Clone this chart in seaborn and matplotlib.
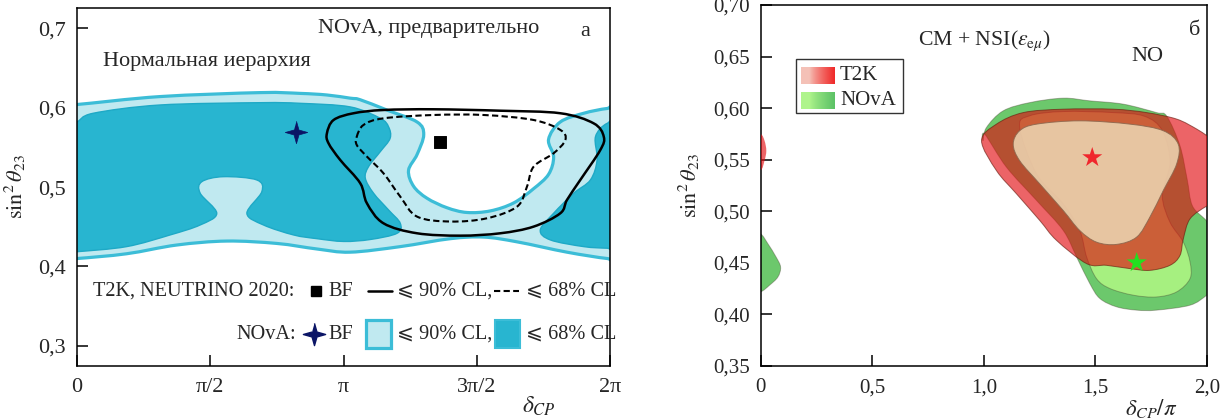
import numpy as np
import pandas as pd
import matplotlib
matplotlib.use("Agg")
import matplotlib.pyplot as plt
from matplotlib.path import Path
from matplotlib.patches import PathPatch, Rectangle
import seaborn as sns

# ---------------- panel (a): NOvA vs T2K, delta_CP in units of pi ----------------
nova90_dcp = [-0.05, 0.0, 0.311, 0.687, 0.837, 0.937, 1.024, 1.062, 1.162, 1.275, 1.30, 1.275,
              1.243, 1.262, 1.312, 1.387, 1.462, 1.55, 1.637, 1.712, 1.768, 1.787, 1.768, 1.812,
              1.9, 1.988, 2.05,
              2.05, 1.988, 1.837, 1.65, 1.525, 1.40, 1.212, 1.024, 0.9, 0.749, 0.5615, 0.374,
              0.186, 0.0, -0.05]
nova90_s23 = [0.604, 0.604, 0.614, 0.619, 0.618, 0.616, 0.612, 0.610, 0.597, 0.582, 0.566, 0.541,
              0.521, 0.501, 0.486, 0.474, 0.468, 0.470, 0.480, 0.498, 0.516, 0.538, 0.560, 0.582,
              0.593, 0.599, 0.599,
              0.410, 0.410, 0.418, 0.431, 0.437, 0.435, 0.425, 0.418, 0.422, 0.429, 0.432, 0.427,
              0.416, 0.410, 0.410]

nova68a_dcp = [-0.05, 0.0, 0.061, 0.311, 0.687, 0.837, 1.024, 1.137, 1.168, 1.174, 1.137, 1.093,
               1.081, 1.112, 1.168, 1.212, 1.2, 1.1, 1.0, 0.9, 0.812, 0.699, 0.637, 0.693, 0.674,
               0.549, 0.468, 0.462, 0.524, 0.462, 0.349, 0.186, 0.0, -0.05]
nova68a_s23 = [0.582, 0.5824, 0.593, 0.6034, 0.6063, 0.6055, 0.601, 0.5866, 0.576, 0.5615, 0.5446,
               0.5257, 0.5111, 0.4922, 0.4712, 0.4544, 0.4418, 0.434, 0.4315, 0.435, 0.4397, 0.4523,
               0.467, 0.4942, 0.509, 0.5131, 0.5068, 0.4922, 0.467, 0.4523, 0.4397, 0.425, 0.4186,
               0.418]

nova68b_dcp = [2.05, 1.988, 1.944, 1.95, 1.925, 1.862, 1.787, 1.737, 1.775, 1.90, 1.988, 2.05]
nova68b_s23 = [0.5803, 0.5803, 0.5635, 0.5341, 0.509, 0.4922, 0.467, 0.446, 0.4334, 0.425, 0.423,
               0.423]

t2k90_dcp = [0.937, 0.962, 1.037, 1.149, 1.337, 1.587, 1.812, 1.937, 1.975, 1.962, 1.887, 1.837,
             1.812, 1.712, 1.587, 1.437, 1.275, 1.149, 1.087, 1.062, 0.987, 0.943]
t2k90_s23 = [0.5677, 0.5845, 0.593, 0.5971, 0.598, 0.5962, 0.593, 0.5803, 0.5635, 0.5467, 0.509,
             0.4838, 0.467, 0.4502, 0.4418, 0.4388, 0.4418, 0.4544, 0.4796, 0.5048, 0.5341, 0.5552]

t2k68_dcp = [1.049, 1.074, 1.149, 1.337, 1.525, 1.712, 1.812, 1.831, 1.787, 1.712, 1.687, 1.65,
             1.537, 1.40, 1.275, 1.212, 1.149, 1.087, 1.049]
t2k68_s23 = [0.5635, 0.5782, 0.5866, 0.5908, 0.5908, 0.5845, 0.572, 0.5594, 0.5426, 0.5257, 0.5005,
             0.4754, 0.4607, 0.4566, 0.4628, 0.488, 0.5174, 0.5384, 0.553]

bf_nova_a = (0.822, 0.569)
bf_t2k_a = (1.362, 0.5564)

# ---------------- panel (b): SM + NSI(eps_emu), delta_CP / pi ----------------
nsi_nova90_dcp = [0.997, 1.012, 1.087, 1.206, 1.356, 1.475, 1.625, 1.774, 1.82, 1.879, 1.911,
                  1.935, 2.0, 2.06, 2.06, 1.999, 1.924, 1.774, 1.685, 1.595, 1.52, 1.475, 1.416,
                  1.356, 1.237, 1.102, 1.004]
nsi_nova90_s23 = [0.5683, 0.5811, 0.5973, 0.6053, 0.6096, 0.607, 0.6038, 0.5956, 0.592, 0.5634,
                  0.5312, 0.505, 0.49, 0.47, 0.43, 0.4184, 0.4087, 0.4039, 0.4039, 0.4071, 0.4152,
                  0.4297, 0.4554, 0.4812, 0.5102, 0.5425, 0.5748]

nsi_nova68_dcp = [1.161, 1.206, 1.356, 1.58, 1.72, 1.80, 1.834, 1.80, 1.834, 1.894, 1.924, 1.924,
                  1.864, 1.774, 1.67, 1.565, 1.505, 1.461, 1.43, 1.356, 1.237]
nsi_nova68_s23 = [0.5811, 0.5925, 0.5966, 0.5956, 0.592, 0.578, 0.5473, 0.5151, 0.4893, 0.4699,
                  0.4506, 0.4345, 0.4216, 0.4167, 0.4184, 0.4249, 0.4345, 0.4554, 0.4812, 0.5071,
                  0.5361]

nsi_t2k90_dcp = [0.99, 1.057, 1.177, 1.356, 1.58, 1.729, 1.864, 1.954, 2.0, 2.06, 2.06, 2.0, 1.924,
                 1.894, 1.879, 1.834, 1.744, 1.655, 1.55, 1.461, 1.326, 1.251, 1.147, 1.057]
nsi_t2k90_s23 = [0.5683, 0.5844, 0.5956, 0.5989, 0.5989, 0.5956, 0.5893, 0.5796, 0.5731, 0.565,
                 0.51, 0.505, 0.4925, 0.4732, 0.457, 0.4474, 0.4425, 0.4442, 0.4474, 0.449, 0.4716,
                 0.4909, 0.5167, 0.5393]

nsi_t2k68_dcp = [1.132, 1.161, 1.237, 1.43, 1.655, 1.804, 1.871, 1.864, 1.804, 1.744, 1.685, 1.595,
                 1.505, 1.43, 1.356, 1.251, 1.161]
nsi_t2k68_s23 = [0.565, 0.578, 0.5844, 0.5876, 0.5844, 0.578, 0.565, 0.5457, 0.5199, 0.4941,
                 0.4748, 0.4677, 0.4699, 0.4812, 0.5006, 0.5264, 0.5489]

nsi_t2k_wrap_dcp = [-0.05, 0.0, 0.018, 0.026, 0.018, 0.0, -0.05]
nsi_t2k_wrap_s23 = [0.5748, 0.5748, 0.5683, 0.5586, 0.549, 0.5393, 0.5393]
nsi_nova_wrap_dcp = [-0.05, 0.0, 0.033, 0.070, 0.09, 0.078, 0.04, 0.0, -0.05]
nsi_nova_wrap_s23 = [0.48, 0.478, 0.4684, 0.4554, 0.4457, 0.4361, 0.428, 0.4216, 0.421]

bf_t2k_b = (1.486, 0.552)
bf_nova_b = (1.685, 0.450)

# ---------------- styling ----------------
sns.set_theme(style="ticks")
plt.rcParams["font.family"] = ["Liberation Serif", "DejaVu Serif", "DejaVu Sans"]
plt.rcParams["mathtext.fontset"] = "stix"
FS_A = 16.0      # panel (a) captions and tick labels
FS_KEY = 14.6    # panel (a) key rows
FS_B = 15.0      # panel (b) tick labels
SERIF = ["Liberation Serif", "DejaVu Sans"]

C_LIGHT = "#c0e9f0"
C_BORDER = "#3cbdd7"
C_DARK = "#28b5d0"
C_NAVY = "#0b1566"


def smooth_closed(xs, ys):
    """Closed Catmull-Rom curve through the given boundary points as a Bezier path."""
    p = np.column_stack([xs, ys]).astype(float)
    n = len(p)
    verts = [p[0]]
    codes = [Path.MOVETO]
    for i in range(n):
        p0, p1, p2, p3 = p[i - 1], p[i], p[(i + 1) % n], p[(i + 2) % n]
        c1 = p1 + (p2 - p0) / 6.0
        c2 = p2 - (p3 - p1) / 6.0
        verts += [c1, c2, p2]
        codes += [Path.CURVE4] * 3
    verts.append(p[0])
    codes.append(Path.CLOSEPOLY)
    return Path(np.array(verts), codes)


def region(ax, xs, ys, **kw):
    patch = PathPatch(smooth_closed(xs, ys), **kw)
    ax.add_patch(patch)
    return patch


fig = plt.figure(figsize=(12.28, 4.2), dpi=100)
axL = fig.add_axes([0.0627, 0.1293, 0.4344, 0.8517])
axR = fig.add_axes([0.6193, 0.1293, 0.3636, 0.8588])

for ax in (axL, axR):
    for sp in ax.spines.values():
        sp.set_visible(True)
        sp.set_linewidth(1.1)
        sp.set_color("black")
    ax.set_facecolor("white")

# ---------------- panel (a) ----------------
region(axL, nova90_dcp, nova90_s23, facecolor=C_LIGHT, edgecolor=C_BORDER, lw=2.3, zorder=1)
region(axL, nova68a_dcp, nova68a_s23, facecolor=C_DARK, edgecolor="#1ea9c6", lw=1.0, zorder=2)
region(axL, nova68b_dcp, nova68b_s23, facecolor=C_DARK, edgecolor="#1ea9c6", lw=1.0, zorder=2)
region(axL, t2k90_dcp, t2k90_s23, fill=False, edgecolor="black", lw=1.8, zorder=4)
region(axL, t2k68_dcp, t2k68_s23, fill=False, edgecolor="black", lw=1.5,
       linestyle=(0, (3.0, 1.6)), zorder=4)

star4 = [(0, 1), (0.22, 0.22), (1, 0), (0.22, -0.22), (0, -1), (-0.22, -0.22), (-1, 0), (-0.22, 0.22)]
bfa = pd.DataFrame({"dcp": [bf_nova_a[0], bf_t2k_a[0]], "s23": [bf_nova_a[1], bf_t2k_a[1]],
                    "exp": ["NOvA", "T2K"]})
sns.scatterplot(data=bfa[bfa.exp == "NOvA"], x="dcp", y="s23", marker=star4, s=260,
                color=C_NAVY, edgecolor=C_NAVY, linewidth=0.5, ax=axL, zorder=6, legend=False)
sns.scatterplot(data=bfa[bfa.exp == "T2K"], x="dcp", y="s23", marker="s", s=70,
                color="black", edgecolor="black", ax=axL, zorder=6, legend=False)

axL.set_xlim(0, 2)
axL.set_ylim(0.275, 0.7256)
axL.set_xticks([0, 0.5, 1, 1.5, 2])
axL.set_xticklabels(["0", "π/2", "π", "3π/2", "2π"])
axL.set_yticks([0.3, 0.4, 0.5, 0.6, 0.7])
axL.set_yticklabels(["0,3", "0,4", "0,5", "0,6", "0,7"])
axL.tick_params(axis="both", direction="in", length=8, width=1.1, labelsize=FS_A, color="black")
axL.tick_params(axis="x", pad=9)
axL.tick_params(axis="y", pad=8)
axL.set_xlabel(r"$\delta_{CP}$", fontsize=FS_A + 1)
axL.xaxis.set_label_coords(0.866, -0.082)
axL.set_ylabel(r"$\sin^2\theta_{23}$", fontsize=FS_A)
axL.yaxis.set_label_coords(-0.092, 0.5)

tA = axL.transAxes
axL.text(0.452, 0.944, "NOvA, предварительно", transform=tA, fontsize=FS_A, va="center", ha="left")
axL.text(0.952, 0.933, "а", transform=tA, fontsize=FS_A, va="center", ha="center")
axL.text(0.0487, 0.849, "Нормальная иерархия", transform=tA, fontsize=FS_A, va="center", ha="left")

# key, first row: T2K
r1, r2 = 0.2088, 0.0886
axL.text(0.0294, r1, "T2K, NEUTRINO 2020:", transform=tA, fontsize=FS_KEY, va="center", ha="left")
axL.plot([0.448], [r1], marker="s", ms=7, color="black", transform=tA, clip_on=False)
axL.text(0.4705, r1, "BF", transform=tA, fontsize=FS_KEY, va="center", ha="left")
axL.plot([0.5454, 0.5904], [r1, r1], color="black", lw=1.8, transform=tA)
axL.text(0.5998, r1, "⩽ 90% CL,", transform=tA, fontsize=FS_KEY, va="center", ha="left", family=SERIF)
axL.plot([0.7816, 0.8285], [r1, r1], color="black", lw=1.5, ls=(0, (3.0, 1.6)), transform=tA)
axL.text(0.8416, r1, "⩽ 68% CL", transform=tA, fontsize=FS_KEY, va="center", ha="left", family=SERIF)

# key, second row: NOvA
axL.text(0.4105, r2, "NOvA:", transform=tA, fontsize=FS_KEY, va="center", ha="right")
axL.plot([0.4442], [r2], marker=star4, ms=16, color=C_NAVY, transform=tA)
axL.text(0.4705, r2, "BF", transform=tA, fontsize=FS_KEY, va="center", ha="left")
axL.add_patch(Rectangle((0.5417, 0.0495), 0.0469, 0.0783, transform=tA,
                        facecolor=C_LIGHT, edgecolor=C_BORDER, lw=2.3))
axL.text(0.5998, r2, "⩽ 90% CL,", transform=tA, fontsize=FS_KEY, va="center", ha="left", family=SERIF)
axL.add_patch(Rectangle((0.7835, 0.0495), 0.0469, 0.0783, transform=tA,
                        facecolor=C_DARK, edgecolor=C_BORDER, lw=1.5))
axL.text(0.8416, r2, "⩽ 68% CL", transform=tA, fontsize=FS_KEY, va="center", ha="left", family=SERIF)

# ---------------- panel (b) ----------------
G_OUT = "#6cc86c"
G_IN = "#a6f080"
R_OUT = "#e10a0f"
BEIGE = "#ecd4b0"
edge = dict(edgecolor=(0.25, 0.2, 0.15, 0.35), lw=0.7)

region(axR, nsi_nova90_dcp, nsi_nova90_s23, facecolor=G_OUT, zorder=1, **edge)
region(axR, nsi_nova_wrap_dcp, nsi_nova_wrap_s23, facecolor=G_OUT, zorder=1, **edge)
region(axR, nsi_nova68_dcp, nsi_nova68_s23, facecolor=G_IN, zorder=2, **edge)
region(axR, nsi_t2k90_dcp, nsi_t2k90_s23, facecolor=R_OUT, alpha=0.63, zorder=3,
       edgecolor=(0.4, 0.1, 0.05), lw=0.7)
region(axR, nsi_t2k_wrap_dcp, nsi_t2k_wrap_s23, facecolor=R_OUT, alpha=0.63, zorder=3, lw=0)
region(axR, nsi_t2k68_dcp, nsi_t2k68_s23, facecolor=BEIGE, alpha=0.88, zorder=4,
       edgecolor=(0.55, 0.4, 0.3, 0.5), lw=0.7)

bfb = pd.DataFrame({"dcp": [bf_t2k_b[0], bf_nova_b[0]], "s23": [bf_t2k_b[1], bf_nova_b[1]],
                    "exp": ["T2K", "NOvA"]})
sns.scatterplot(data=bfb, x="dcp", y="s23", hue="exp", palette={"T2K": "#f0262c", "NOvA": "#22e020"},
                marker="*", s=230, linewidth=0, ax=axR, zorder=6, legend=False)

axR.set_xlim(0, 2)
axR.set_ylim(0.35, 0.70)
axR.set_xticks([0, 0.5, 1.0, 1.5, 2.0])
axR.set_xticklabels(["0", "0,5", "1,0", "1,5", "2,0"])
axR.set_yticks([0.35, 0.40, 0.45, 0.50, 0.55, 0.60, 0.65, 0.70])
axR.set_yticklabels(["0,35", "0,40", "0,45", "0,50", "0,55", "0,60", "0,65", "0,70"])
axR.tick_params(axis="both", direction="in", length=8, width=1.1, labelsize=FS_B, color="black")
axR.tick_params(axis="x", pad=9)
axR.tick_params(axis="y", pad=7.5)
axR.set_xlabel(r"$\delta_{CP}/\pi$", fontsize=FS_B + 1.5)
axR.xaxis.set_label_coords(0.8746, -0.088)
axR.set_ylabel(r"$\sin^2\theta_{23}$", fontsize=FS_B + 1)
axR.yaxis.set_label_coords(-0.131, 0.5)

tB = axR.transAxes
axR.text(0.3527, 0.900, r"СМ + NSI($\varepsilon_{\mathrm{e}\mu}$)", transform=tB, fontsize=15.7,
         va="center", ha="left")
axR.text(0.8667, 0.856, "NO", transform=tB, fontsize=16, va="center", ha="center")
axR.text(0.972, 0.928, "б", transform=tB, fontsize=16, va="center", ha="center")

# key with shaded swatches
axR.add_patch(Rectangle((0.0795, 0.7006), 0.2395, 0.1497, transform=tB, facecolor="white",
                        edgecolor="#333333", lw=1.0, zorder=7))
grad = np.linspace(0, 1, 64)
ramp = np.clip((grad - 0.25) / 0.75, 0, 1) ** 0.8
red_sw = np.array([[(0.96 - 0.02 * t, 0.76 - 0.6 * t, 0.72 - 0.56 * t) for t in ramp]])
grn_sw = np.array([[(0.69 - 0.33 * t, 0.96 - 0.2 * t, 0.55 - 0.15 * t) for t in ramp]])
axR.imshow(red_sw, extent=[0.0897, 0.1645, 0.781, 0.8273], transform=tB, aspect="auto",
           interpolation="bilinear", zorder=8)
axR.imshow(grn_sw, extent=[0.0897, 0.1645, 0.7117, 0.758], transform=tB, aspect="auto",
           interpolation="bilinear", zorder=8)
axR.text(0.178, 0.8043, "T2K", transform=tB, fontsize=FS_B, va="center", ha="left", zorder=8)
axR.text(0.178, 0.7345, "NOvA", transform=tB, fontsize=FS_B, va="center", ha="left", zorder=8)
axR.set_xlim(0, 2)
axR.set_ylim(0.35, 0.70)

fig.savefig("out.png", dpi=100)
